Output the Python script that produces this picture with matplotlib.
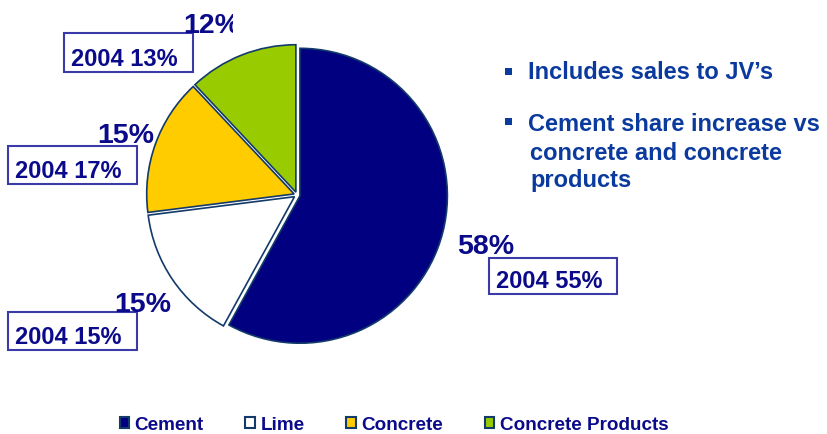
import matplotlib
matplotlib.use("Agg")
import matplotlib.pyplot as plt
from matplotlib.transforms import Bbox

plt.rcParams['font.family'] = ['Liberation Sans', 'DejaVu Sans']
plt.rcParams['font.weight'] = 'bold'

# product mix data
categories = ['Cement', 'Lime', 'Concrete', 'Concrete Products']
share_now = [58, 15, 15, 12]
share_2004 = [55, 15, 17, 13]
colors = ['#000080', '#ffffff', '#ffcc00', '#99cc00']

W, H = 828, 434
navy = '#0a0a8a'
bullet_blue = '#0b3a9e'

fig = plt.figure(figsize=(W / 100, H / 100), dpi=100)

def fx(px):
    return px / W

def fy(py):
    return 1 - py / H

# pie centred at (297, 195) px, radius ~150 px
r_px = 152
ax = fig.add_axes([fx(297 - r_px), fy(195 + r_px), 2 * r_px / W, 2 * r_px / H])
wedges, _ = ax.pie(share_now, colors=colors, startangle=90, counterclock=False,
                   explode=[0.02] * 4, radius=0.97,
                   wedgeprops=dict(edgecolor='#123a6a', linewidth=1.2))
ax.set_xlim(-1, 1)
ax.set_ylim(-1, 1)
ax.set_aspect('equal')
ax.axis('off')

# current share labels (left x, baseline y in px)
pct_pos = [(457, 254), (114, 312), (97, 143), (183, 33)]
for (x, y), v in zip(pct_pos, share_now):
    t = fig.text(fx(x), fy(y), f"{v}%", fontsize=20.5, color=navy,
                 ha='left', va='baseline', fontweight='bold')
    if v == share_now[-1] and (x, y) == pct_pos[-1]:
        # the top label is cut off where the slide's text frame ends
        t.set_clip_box(Bbox([[0, 0], [233, H]]))
        t.set_clip_on(True)

# 2004 comparison boxes: (left, top, right, bottom) px
box_pos = [(489, 258, 617, 294), (8, 312, 137, 350), (8, 146, 137, 184), (64, 33, 193, 72)]
for (l, t, r, b), v in zip(box_pos, share_2004):
    fig.patches.append(plt.Rectangle((fx(l), fy(b)), fx(r - l), (b - t) / H,
                                     transform=fig.transFigure, fill=False,
                                     edgecolor='#3a3aa8', linewidth=1.5))
    fig.text(fx(l + 7), fy(b - 6), f"2004 {v}%", fontsize=17,
             color=navy, ha='left', va='baseline', fontweight='bold')

# side notes, one text per line
note_lines = ["Includes sales to JV\u2019s", "Cement share increase vs",
              "concrete and concrete", "products"]
note_x = [528, 528, 530, 530]
note_base = [79, 131, 160, 187]
for txt, x, y in zip(note_lines, note_x, note_base):
    fig.text(fx(x), fy(y), txt, fontsize=17, color=bullet_blue,
             ha='left', va='baseline', fontweight='bold')
for y in [71, 121]:
    fig.patches.append(plt.Rectangle((fx(505), fy(y + 3.5)), 7 / W, 7 / H,
                                     transform=fig.transFigure,
                                     facecolor=bullet_blue, edgecolor='none'))

leg = fig.legend(wedges, categories, loc='center', bbox_to_anchor=(fx(394), fy(425)),
                 ncol=4, frameon=False, handlelength=0.5, handleheight=0.5,
                 handletextpad=0.3, columnspacing=2.2,
                 prop=dict(size=13.6, weight='bold'))
for t in leg.get_texts():
    t.set_color(navy)
for h in leg.legend_handles:
    h.set_edgecolor('#123a6a')
    h.set_linewidth(1.5)

fig.savefig('out.png', dpi=100)
